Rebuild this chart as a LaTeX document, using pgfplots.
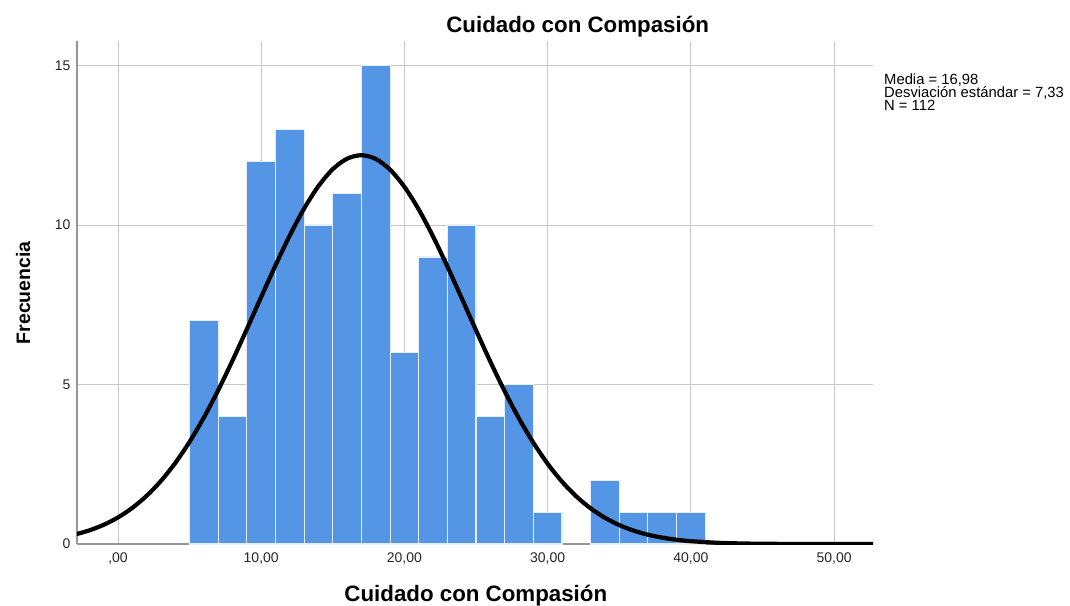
\documentclass[border=0pt]{standalone}
\usepackage{fontspec}
\setmainfont{Liberation Sans}
\usepackage{pgfplots}
\pgfplotsset{compat=1.18}
\definecolor{barblue}{RGB}{85,149,229}
\definecolor{gridgray}{RGB}{200,200,200}
\definecolor{axisgray}{RGB}{150,150,150}
\newcommand{\tightlines}{\lineskiplimit=-20pt\relax}
\begin{document}
\begin{tikzpicture}[x=1pt,y=1pt]
\useasboundingbox (-77,-61) rectangle (993,544);
\begin{axis}[
  at={(0,0)}, anchor=south west,
  scale only axis,
  width=796pt, height=503.3pt,
  xmin=-2.863, xmax=52.72,
  ymin=0, ymax=15.78,
  axis lines*=left,
  axis line style={axisgray, line width=1.6pt},
  xtick={0,10,20,30,40,50},
  xticklabels={{,00},{10,00},{20,00},{30,00},{40,00},{50,00}},
  ytick={0,5,10,15},
  major tick length=0pt,
  grid=major,
  major grid style={gridgray, line width=1pt},
  /pgf/number format/assume math mode=true,
  tick label style={font=\fontsize{14}{16}\selectfont, text=black!85},
  xticklabel style={yshift=-5pt},
  yticklabel style={xshift=-3pt},
  every axis title shift=0pt,
  title={Cuidado con Compasión},
  title style={font=\fontsize{22.3}{26}\selectfont\bfseries, at={(axis description cs:0.629,1.0153)}, anchor=base},
  xlabel={Cuidado con Compasión},
  xlabel style={font=\fontsize{22.3}{26}\selectfont\bfseries, at={(axis description cs:0.501,-0.1142)}, anchor=base},
  ylabel={Frecuencia},
  ylabel style={font=\fontsize{19.5}{23}\selectfont\bfseries, at={(axis description cs:-0.0678,0.499)}, anchor=center, rotate=0},
  clip mode=individual,
]
\addplot[ybar interval, fill=barblue, draw=white!85!barblue, line width=1.2pt] coordinates {
  (5,7) (7,4) (9,12) (11,13) (13,10) (15,11) (17,15) (19,6) (21,9) (23,10)
  (25,4) (27,5) (29,1) (31,0)
};
\addplot[ybar interval, fill=barblue, draw=white!85!barblue, line width=1.2pt] coordinates {
  (33,2) (35,1) (37,1) (39,1) (41,0)
};
\addplot[black, line width=4.2pt, smooth, no markers] coordinates {
  (-3,0.297) (-2,0.427) (-1,0.602) (0,0.833) (1,1.133) (2,1.511) (3,1.977)
  (4,2.541) (5,3.206) (6,3.969) (7,4.825) (8,5.756) (9,6.740) (10,7.747)
  (11,8.739) (12,9.678) (13,10.520) (14,11.223) (15,11.754) (16,12.081)
  (17,12.19) (18,12.073) (19,11.735) (20,11.198) (21,10.489) (22,9.642)
  (23,8.701) (24,7.707) (25,6.700) (26,5.717) (27,4.789) (28,3.937)
  (29,3.178) (30,2.517) (31,1.957) (32,1.494) (33,1.119) (34,0.823)
  (35,0.594) (36,0.420) (37,0.292) (38,0.200) (39,0.134) (40,0.088)
  (42,0.036) (44,0.0137) (46,0.0048) (48,0.0016) (50,0.0005) (53,0.0001)
};
\node[anchor=north west, align=left, inner sep=0pt, font=\fontsize{14.8}{13.3}\selectfont]
  at (axis description cs:1.0138,0.9350)
  {\tightlines Media = 16,98\\Desviación estándar = 7,33\\N = 112};
\end{axis}
\end{tikzpicture}
\end{document}
